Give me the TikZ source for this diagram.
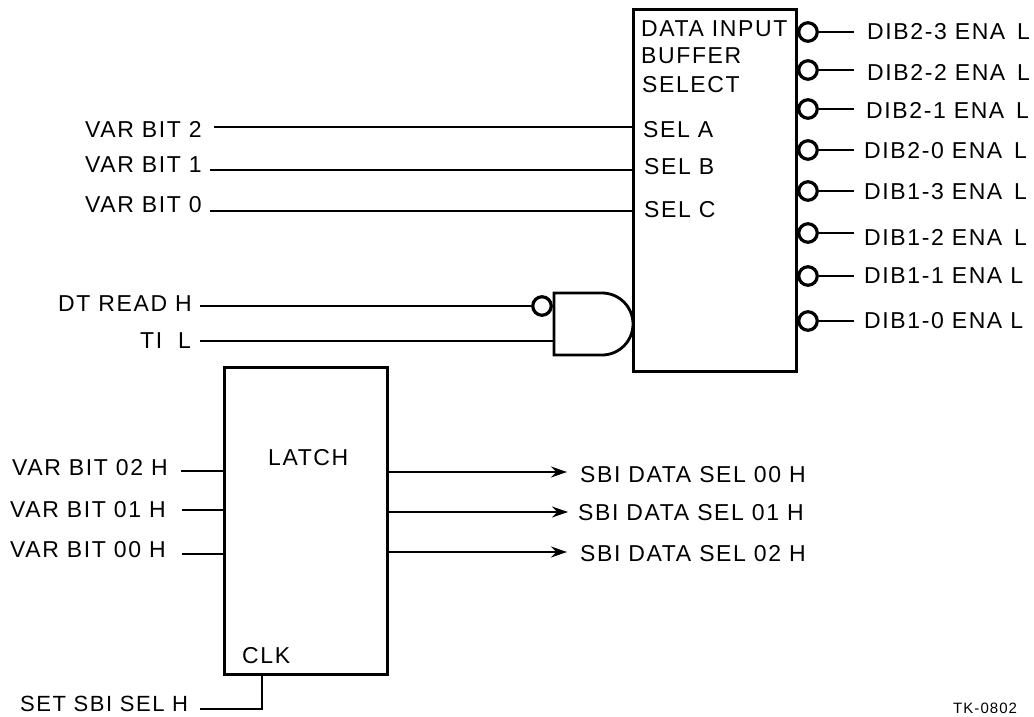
\documentclass[tikz,border=0pt]{standalone}
\usepackage{fontspec}
\setmainfont{Liberation Sans}[LetterSpace=7]
\usetikzlibrary{arrows.meta,positioning,calc}
\begin{document}
\begin{tikzpicture}[x=1pt,y=-1pt,>=Stealth,font=\fontsize{23}{25}\selectfont,
 blk/.style={draw,line width=3pt,rectangle,inner sep=0pt},
 bub/.style={draw,circle,line width=3.2pt,minimum size=18.5pt,inner sep=0pt,fill=white},
 lb/.style={inner sep=0pt,anchor=west},
 wire/.style={draw,line width=1.3pt},
 arr/.style={draw,line width=1.3pt,-{Stealth[length=16pt,width=11pt]}}]
\useasboundingbox (0,0) rectangle (1034,717);
\path[fill=white] (0,0) rectangle (1034,717);
\node[blk,minimum width=163pt,minimum height=361pt] (buf) at (714.5,190.5) {};
\node[blk,minimum width=163pt,minimum height=307pt] (latch) at (305.5,520.5) {};
\node[lb] (t1) at (641,29) {DATA INPUT};
\node[lb] (t2) at (641,56) {BUFFER};
\node[lb] (t3) at (642,85) {SELECT};
\node[lb] (sa) at (643,130) {SEL\ A};
\node[lb] (sb) at (644,167) {SEL\ B};
\node[lb] (sc) at (644,210) {SEL C};
\node[lb] (v2) at (85,129) {VAR BIT 2};
\node[lb] (v1) at (85,165) {VAR BIT 1};
\node[lb] (v0) at (85,205) {VAR BIT 0};
\coordinate (v2s) at (214,127); \coordinate (v1s) at (210,170); \coordinate (v0s) at (210,211);
\draw[wire] (v2s) -- (buf.west|-v2s);
\draw[wire] (v1s) -- (buf.west|-v1s);
\draw[wire] (v0s) -- (buf.west|-v0s);
\node[lb] (dt) at (58,304) {DT READ H};
\node[lb] (ti) at (140,341) {TI\ \ L};
\coordinate (gt) at (554,293); \coordinate (gb) at (554,355);
\draw[line width=2.8pt,fill=white] (gt) -- (602,293) arc[start angle=-90,end angle=90,radius=31] -- (gb) -- cycle;
\node[bub] (ginv) at (542,306) {};
\coordinate (dts) at (200,306); \coordinate (tis) at (200,341);
\draw[wire] (dts) -- (ginv.west);
\draw[wire] (tis) -- (gb|-tis);
% outputs
\foreach \y/\n/\tx/\ty/\gap in {32/DIB2-3/867/32/\ \,,70/DIB2-2/867/72/\ \,,109/DIB2-1/866/110/\ \,,150/DIB2-0/864/151/\ \,,191/DIB1-3/864/192/\ \,,233/DIB1-2/864/237/\ \,,276/DIB1-1/864/276/\ ,321/DIB1-0/864/321/\ }{
 \node[bub] (o\n) at (808,\y) {};
 \node[lb] (l\n) at (\tx,\ty) {\n{} ENA\gap L};
 \coordinate (e\n) at (854,\y);
 \draw[wire] (o\n.east) -- (e\n);
}
\node[lb] (q0) at (580,475) {SBI DATA SEL 00 H};
\node[lb] (q1) at (578,513) {SBI DATA SEL 01 H};
\node[lb] (q2) at (580,554) {SBI DATA SEL 02 H};
\node[lb] (ltxt) at (268,458) {LATCH};
\node[lb] (clk) at (242,656) {CLK};
\node[lb] (d0) at (12,468) {VAR BIT 02 H};
\node[lb] (d1) at (10,510) {VAR BIT 01 H};
\node[lb] (d2) at (10,550) {VAR BIT 00 H};
\node[lb,font=\fontsize{22}{24}\selectfont] (set) at (20,704) {SET SBI SEL H};
\coordinate (d0s) at (181,471); \coordinate (d1s) at (182,510); \coordinate (d2s) at (182,554);
\draw[wire] (d0s) -- (latch.west|-d0s);
\draw[wire] (d1s) -- (latch.west|-d1s);
\draw[wire] (d2s) -- (latch.west|-d2s);
\coordinate (a0) at (567,472); \coordinate (a1) at (568,512); \coordinate (a2) at (567,552);
\draw[arr] (latch.east|-a0) -- (a0);
\draw[arr] (latch.east|-a1) -- (a1);
\draw[arr] (latch.east|-a2) -- (a2);
\coordinate (sets) at (200,709); \coordinate (setc) at (262,709);
\draw[wire] (sets) -- (setc) -- (setc|-latch.south);
\node[lb,font=\fontsize{15}{17}\selectfont] (tk) at (953,708) {TK-0802};
\end{tikzpicture}
\end{document}
